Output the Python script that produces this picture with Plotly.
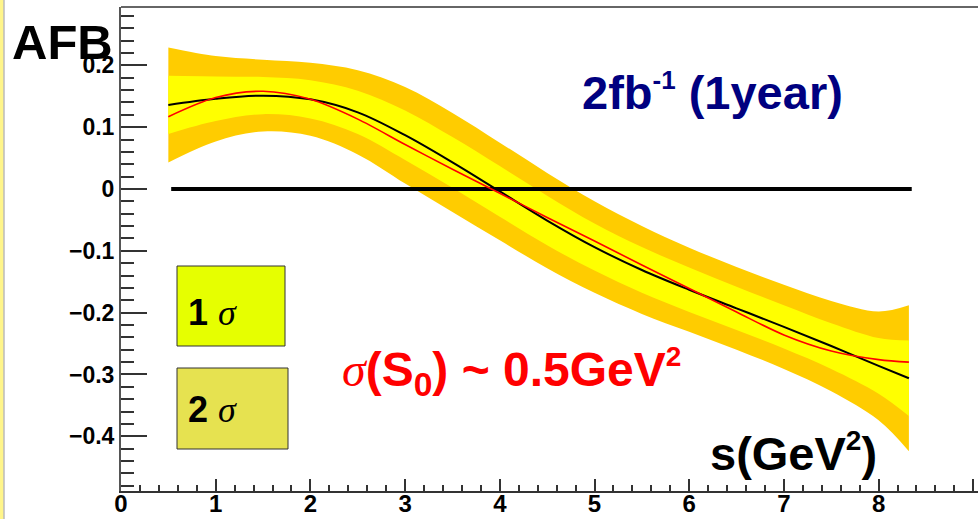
import plotly.graph_objects as go
import numpy as np

# ---- data ----
s = [0.5, 1.0, 1.5, 2.0, 2.5, 3.0, 3.5, 4.0, 4.5, 5.0, 5.5, 6.0, 6.5, 7.0, 7.5, 8.0, 8.32]
afb_central = [0.136, 0.146, 0.151, 0.145, 0.124, 0.087, 0.043, -0.004, -0.051, -0.094,
               -0.131, -0.163, -0.193, -0.223, -0.254, -0.286, -0.306]
afb_smeared = [0.117, 0.148, 0.158, 0.145, 0.113, 0.072, 0.032, -0.007, -0.046, -0.084,
               -0.123, -0.161, -0.199, -0.236, -0.262, -0.276, -0.280]
err_1sigma = [0.047, 0.036, 0.030, 0.031, 0.035, 0.040, 0.041, 0.041, 0.040, 0.038,
              0.037, 0.036, 0.035, 0.035, 0.037, 0.045, 0.061]
err_2sigma = [0.093, 0.069, 0.058, 0.059, 0.068, 0.078, 0.080, 0.079, 0.077, 0.074,
              0.071, 0.068, 0.067, 0.068, 0.073, 0.088, 0.118]
zero_s = [0.53, 8.35]
zero_afb = [0.0, 0.0]

x_ticks = [0, 1, 2, 3, 4, 5, 6, 7, 8, 9]
y_ticks = [-0.4, -0.3, -0.2, -0.1, 0.0, 0.1, 0.2]

# ---- layout geometry ----
W, H = 978, 519
L, R, T, B = 121, 0, 7, 28
PW, PH = W - L - R, H - T - B
X_SCALE = 94.7
Y_SCALE = 618.3
x_range = [0, PW / X_SCALE]
y_top = (189 - T) / Y_SCALE
y_range = [y_top - PH / Y_SCALE, y_top]


def pxx(px):
    return (px - L) / PW


def pxy(py):
    return (H - B - py) / PH


c = np.array(afb_central)
e1 = np.array(err_1sigma)
e2 = np.array(err_2sigma)

ORANGE = "rgb(255,204,0)"
YELLOW = "rgb(255,255,0)"

fig = go.Figure()
fig.add_trace(go.Scatter(x=s, y=(c - e2).tolist(), mode="lines", line=dict(width=0, shape="spline"),
                         hoverinfo="skip", showlegend=False))
fig.add_trace(go.Scatter(x=s, y=(c + e2).tolist(), mode="lines", line=dict(width=0, shape="spline"),
                         fill="tonexty", fillcolor=ORANGE, showlegend=False))
fig.add_trace(go.Scatter(x=s, y=(c - e1).tolist(), mode="lines", line=dict(width=0, shape="spline"),
                         hoverinfo="skip", showlegend=False))
fig.add_trace(go.Scatter(x=s, y=(c + e1).tolist(), mode="lines", line=dict(width=0, shape="spline"),
                         fill="tonexty", fillcolor=YELLOW, showlegend=False))
fig.add_trace(go.Scatter(x=zero_s, y=zero_afb, mode="lines", line=dict(color="black", width=4),
                         showlegend=False))
fig.add_trace(go.Scatter(x=s, y=afb_central, mode="lines",
                         line=dict(color="black", width=2, shape="spline"), showlegend=False))
fig.add_trace(go.Scatter(x=s, y=afb_smeared, mode="lines",
                         line=dict(color="red", width=1.6, shape="spline", smoothing=0.9),
                         showlegend=False))

FONT = "Liberation Sans"
SIG = '<span style="font-family:\'Liberation Serif\';font-style:italic;font-weight:normal">σ</span>'

fig.update_layout(
    width=W, height=H,
    margin=dict(l=L, r=R, t=T, b=B, pad=0, autoexpand=False),
    paper_bgcolor="white", plot_bgcolor="white",
    xaxis=dict(range=x_range, tickvals=x_ticks, ticks="inside", ticklen=12, tickwidth=1.5,
               tickcolor="#333", showline=True, linecolor="#333", linewidth=2, showgrid=False,
               zeroline=False, automargin=False, fixedrange=True, ticklabelstandoff=-10,
               tickfont=dict(family=FONT, size=24, color="black", weight="bold"),
               minor=dict(ticks="inside", ticklen=6, dtick=0.2, tickcolor="#333", tickwidth=1.5,
                          showgrid=False)),
    yaxis=dict(range=y_range, tickvals=y_ticks,
               ticktext=[("−" if v < 0 else "") + ("%g" % abs(v)) for v in y_ticks],
               ticks="inside", ticklen=26, tickwidth=1.5,
               tickcolor="#333", showline=True, linecolor="#555", linewidth=2, showgrid=False,
               zeroline=False, automargin=False, fixedrange=True,
               tickfont=dict(family=FONT, size=23, color="black", weight="bold"),
               minor=dict(ticks="inside", ticklen=13, dtick=0.02, tickcolor="#333", tickwidth=1.5,
                          showgrid=False)),
    font=dict(family=FONT),
)

shapes = [
    # top frame line
    dict(type="line", xref="paper", yref="paper", x0=0, x1=1, y0=1, y1=1,
         line=dict(color="#666", width=2)),
    # left canvas border
    dict(type="rect", xref="paper", yref="paper", x0=pxx(0), x1=pxx(3.5), y0=pxy(H), y1=pxy(0),
         fillcolor="#FFF58A", line=dict(width=0), layer="below"),
    dict(type="line", xref="paper", yref="paper", x0=pxx(4), x1=pxx(4), y0=pxy(H), y1=pxy(0),
         line=dict(color="#999", width=1)),
    # legend boxes
    dict(type="rect", xref="paper", yref="paper", x0=pxx(177), x1=pxx(285), y0=pxy(346), y1=pxy(266),
         fillcolor="rgb(230,255,0)", line=dict(color="#333", width=1)),
    dict(type="rect", xref="paper", yref="paper", x0=pxx(177), x1=pxx(288), y0=pxy(449), y1=pxy(368),
         fillcolor="rgb(230,226,80)", line=dict(color="#333", width=1)),
]
fig.update_layout(shapes=shapes)


def ann(text, px, py, size, color="black"):
    fig.add_annotation(text=text, xref="paper", yref="paper", x=pxx(px), y=pxy(py),
                       xanchor="left", yanchor="middle", showarrow=False,
                       font=dict(family=FONT, size=size, color=color))


SUPS = '<span style="font-size:%dpx">%s</span>'
ann("<b>AFB</b>", 10, 42, 49)
ann("<b>2fb<sup>" + SUPS % (26, "-1") + "</sup> (1year)</b>", 580, 92, 47, "#000080")
ann(SIG + "<b>(S<sub>0</sub>) ~ 0.5GeV<sup>" + SUPS % (28, "2") + "</sup></b>", 340, 372, 48, "red")
ann("<b>s(GeV<sup>" + SUPS % (28, "2") + "</sup>)</b>", 708, 452, 47)
ann("<b>1 </b>" + SIG, 186, 312, 36)
ann("<b>2 </b>" + SIG, 186, 409, 36)

fig.write_html("out.html")
